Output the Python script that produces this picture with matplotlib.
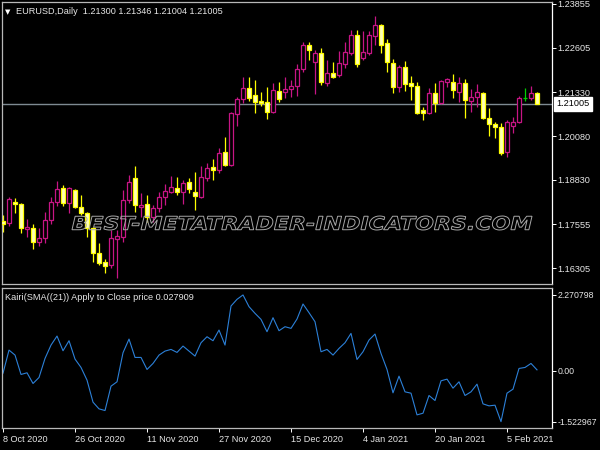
import numpy as np
import matplotlib
matplotlib.use("Agg")
import matplotlib.pyplot as plt
from matplotlib.textpath import TextPath
from matplotlib.patches import PathPatch
from matplotlib.font_manager import FontProperties
from matplotlib.transforms import Affine2D, blended_transform_factory

plt.rcParams['font.family'] = ['Liberation Sans', 'DejaVu Sans']

# ---------------- data ----------------
date_ticks = ['8 Oct 2020', '26 Oct 2020', '11 Nov 2020', '27 Nov 2020',
              '15 Dec 2020', '4 Jan 2021', '20 Jan 2021', '5 Feb 2021']
date_tick_bars = [0, 12, 24, 36, 48, 60, 72, 84]

opens = [1.17655, 1.17598, 1.18198, 1.18141, 1.17427, 1.17455, 1.17055, 1.17170, 1.17684, 1.18198,
         1.18598, 1.18170, 1.18541, 1.18055, 1.17884, 1.17455, 1.16741, 1.16483, 1.16398, 1.17141,
         1.17198, 1.18255, 1.18884, 1.18055, 1.18141, 1.17769, 1.18027, 1.18341, 1.18484, 1.18598,
         1.18484, 1.18769, 1.18484, 1.18341, 1.18884, 1.19198, 1.19113, 1.19625, 1.19255, 1.20712,
         1.21141, 1.21455, 1.21255, 1.21084, 1.21055, 1.20770, 1.21370, 1.21341, 1.21427, 1.21512,
         1.21998, 1.22683, 1.22198, 1.22455, 1.21598, 1.21883, 1.21826, 1.22141, 1.22455, 1.22969,
         1.22312, 1.22455, 1.22940, 1.23255, 1.22740, 1.22169, 1.21484, 1.22055, 1.21598, 1.21512,
         1.20827, 1.20741, 1.21312, 1.21027, 1.21626, 1.21626, 1.21341, 1.21598, 1.21084, 1.21198,
         1.21312, 1.20598, 1.20427, 1.20341, 1.19625, 1.20370, 1.20484, 1.21170, 1.21170, 1.21300]
highs = [1.17827, 1.18341, 1.18312, 1.18170, 1.17712, 1.17570, 1.17455, 1.17912, 1.18341, 1.18798,
         1.18684, 1.18627, 1.18569, 1.18398, 1.17912, 1.17484, 1.17027, 1.16570, 1.17398, 1.17398,
         1.18541, 1.18969, 1.19227, 1.18455, 1.18398, 1.18112, 1.18484, 1.18712, 1.18941, 1.18912,
         1.18827, 1.18884, 1.19055, 1.19227, 1.19313, 1.19427, 1.19741, 1.20055, 1.20770, 1.21198,
         1.21769, 1.21769, 1.21683, 1.21341, 1.21484, 1.21598, 1.21626, 1.21769, 1.21683, 1.22141,
         1.22769, 1.22769, 1.22541, 1.22598, 1.22255, 1.22198, 1.22512, 1.22769, 1.23112, 1.23112,
         1.23083, 1.23083, 1.23512, 1.23283, 1.22855, 1.22283, 1.22112, 1.22226, 1.21798, 1.21626,
         1.20912, 1.21455, 1.21598, 1.21683, 1.21741, 1.21855, 1.21769, 1.21712, 1.21427, 1.21569,
         1.21341, 1.20884, 1.20484, 1.20455, 1.20541, 1.20627, 1.21227, 1.21455, 1.21512, 1.21346]
lows = [1.17341, 1.17512, 1.17884, 1.17313, 1.17198, 1.16855, 1.16941, 1.17027, 1.17570, 1.18084,
        1.18084, 1.17884, 1.18027, 1.17827, 1.17198, 1.16483, 1.16398, 1.16170, 1.16313, 1.16027,
        1.17055, 1.18170, 1.17912, 1.17769, 1.17627, 1.17627, 1.17912, 1.18112, 1.18455, 1.18398,
        1.18141, 1.18455, 1.17969, 1.18312, 1.18798, 1.18827, 1.19027, 1.19227, 1.19227, 1.20370,
        1.21027, 1.21084, 1.20741, 1.20941, 1.20569, 1.20741, 1.21055, 1.21170, 1.21198, 1.21227,
        1.21912, 1.22255, 1.21284, 1.21541, 1.21512, 1.21741, 1.21769, 1.22026, 1.22398, 1.22055,
        1.22255, 1.22398, 1.22683, 1.22455, 1.21912, 1.21312, 1.21341, 1.21370, 1.21112, 1.20712,
        1.20541, 1.20712, 1.20770, 1.20998, 1.21484, 1.21170, 1.21055, 1.20598, 1.20770, 1.20912,
        1.20569, 1.20084, 1.20027, 1.19541, 1.19484, 1.20171, 1.20455, 1.21084, 1.21112, 1.21004]
closes = [1.17570, 1.18284, 1.18141, 1.17455, 1.17484, 1.17055, 1.17170, 1.17684, 1.18198, 1.18569,
          1.18170, 1.18598, 1.18055, 1.17884, 1.17455, 1.16741, 1.16455, 1.16370, 1.17170, 1.17227,
          1.18255, 1.18769, 1.18112, 1.18112, 1.17769, 1.18027, 1.18341, 1.18512, 1.18627, 1.18484,
          1.18741, 1.18569, 1.18369, 1.18912, 1.19170, 1.19113, 1.19597, 1.19255, 1.20741, 1.21141,
          1.21455, 1.21170, 1.21055, 1.21027, 1.20770, 1.21398, 1.21141, 1.21427, 1.21512, 1.21998,
          1.22683, 1.22541, 1.22455, 1.21626, 1.21883, 1.21769, 1.22169, 1.22483, 1.22969, 1.22141,
          1.22483, 1.22969, 1.23255, 1.22683, 1.22198, 1.21484, 1.22055, 1.21569, 1.21512, 1.20741,
          1.20741, 1.21312, 1.21027, 1.21655, 1.21712, 1.21398, 1.21598, 1.21112, 1.21198, 1.21341,
          1.20598, 1.20427, 1.20341, 1.19597, 1.20484, 1.20484, 1.21170, 1.21170, 1.21300, 1.21005]

kairi = [-0.07, 0.62, 0.47, -0.11, -0.06, -0.38, -0.20, 0.37, 0.77, 1.04,
         0.60, 0.90, 0.35, 0.10, -0.28, -0.94, -1.14, -1.19, -0.46, -0.33,
         0.54, 0.95, 0.40, 0.40, 0.04, 0.22, 0.47, 0.59, 0.64, 0.55,
         0.74, 0.59, 0.44, 0.84, 1.02, 0.90, 1.22, 0.77, 1.94, 2.14,
         2.270798, 1.92, 1.72, 1.54, 1.17, 1.59, 1.20, 1.32, 1.27, 1.55,
         2.00, 1.74, 1.47, 0.57, 0.64, 0.47, 0.67, 0.84, 1.12, 0.34,
         0.57, 0.92, 1.10, 0.52, 0.04, -0.66, -0.16, -0.63, -0.67, -1.32,
         -1.27, -0.74, -0.89, -0.30, -0.25, -0.52, -0.33, -0.74, -0.63, -0.40,
         -0.99, -1.05, -1.03, -1.522967, -0.67, -0.55, 0.07, 0.10, 0.22, 0.027909]

price_ticks = [1.23855, 1.22605, 1.21330, 1.20080, 1.18830, 1.17555, 1.16305]
kairi_ticks = [2.270798, 0.0, -1.522967]
kairi_tick_labels = ['2.270798', '0.00', '-1.522967']
last_price = 1.21005
title_text = 'EURUSD,Daily  1.21300 1.21346 1.21004 1.21005'
ind_title = 'Kairi(SMA((21)) Apply to Close price 0.027909'
watermark = 'BEST-METATRADER-INDICATORS.COM'

# ---------------- style ----------------
BULL = '#c71585'
BEAR = '#ffff00'
BEAR_FILL = '#ffffb8'
DOJI = '#00d000'
LINE = '#2c80d8'
TXT = '#e6e6e6'
FRAME = '#b8b8b8'
FS = 6.6

W, H = 600, 450
fig = plt.figure(figsize=(W / 100, H / 100), dpi=100, facecolor='black')
ax1 = fig.add_axes([2 / W, (H - 284) / H, 550 / W, 282 / H])
ax2 = fig.add_axes([2 / W, 22 / H, 550 / W, 140 / H])

o = np.array(opens); h = np.array(highs); l = np.array(lows); c = np.array(closes)
x = np.arange(len(c))

for ax in (ax1, ax2):
    ax.set_facecolor('black')
    ax.set_xlim(-0.17, 91.5)
    for s in ('left', 'top', 'bottom'):
        ax.spines[s].set_color(FRAME)
        ax.spines[s].set_linewidth(0.9)
    ax.spines['right'].set_color('white')
    ax.spines['right'].set_linewidth(0.9)
    ax.yaxis.tick_right()
    ax.tick_params(axis='y', colors='white', labelcolor=TXT, length=3, width=0.7,
                   pad=1.2, labelsize=FS)

# candles
up = c > o
dn = c < o
dj = c == o
wick_col = np.where(up, BULL, np.where(dn, BEAR, DOJI))
face_col = np.where(up, 'black', np.where(dn, BEAR_FILL, DOJI))
edge_col = np.where(up, BULL, np.where(dn, BEAR, DOJI))
ax1.vlines(x, l, h, colors=list(wick_col), linewidth=0.9, zorder=2)
ax1.bar(x[~dj], np.abs(c - o)[~dj], bottom=np.minimum(o, c)[~dj], width=0.6,
        color=list(face_col[~dj]), edgecolor=list(edge_col[~dj]), linewidth=0.9, zorder=3)
ax1.hlines(c[dj], x[dj] - 0.35, x[dj] + 0.35, colors=DOJI, linewidth=0.9, zorder=3)

ax1.set_ylim(1.15855, 1.23912)
ax1.set_yticks(price_ticks)
ax1.set_yticklabels(['%.5f' % p for p in price_ticks])
ax1.set_xticks([])
ax1.axhline(last_price, color='#7e8a92', linewidth=1.0, zorder=1)
bt = blended_transform_factory(ax1.transAxes, ax1.transData)
ax1.text(1.0075, last_price, '%.5f' % last_price, transform=bt, ha='left', va='center',
         color='black', fontsize=FS,
         bbox=dict(boxstyle='square,pad=0.25', fc='white', ec='white'))

# Kairi pane
ax2.plot(x, kairi, color=LINE, linewidth=0.8)
ax2.set_ylim(-1.713, 2.479)
ax2.set_yticks(kairi_ticks)
ax2.set_yticklabels(kairi_tick_labels)
ax2.tick_params(axis='y', labelsize=6.3, pad=1)
ax2.set_xticks(date_tick_bars)
ax2.set_xticklabels(date_ticks, ha='left')
ax2.tick_params(axis='x', colors='white', labelcolor=TXT, length=3, width=0.7,
                pad=2, labelsize=FS)

# titles
fig.text(8 / W, 1 - 12 / H, '\u25bc', color='white', fontsize=5, ha='center', va='center',
         family='DejaVu Sans')
fig.text(16 / W, 1 - 12 / H, title_text, color=TXT, fontsize=FS, ha='left', va='center')
fig.text(5 / W, 1 - 297 / H, ind_title, color=TXT, fontsize=FS, ha='left', va='center')

# watermark (outlined italic text)
tp = TextPath((0, 0), watermark, size=20,
              prop=FontProperties(family='DejaVu Sans', weight='bold', style='oblique'))
ext = tp.get_extents()
sx = (460 / W) / ext.width
sy = (14 / H) / ext.height
tr = (Affine2D().translate(-ext.x0, -ext.y0).scale(sx, sy)
      .translate(72 / W, (H - 230) / H) + fig.transFigure)
fig.add_artist(PathPatch(tp, transform=tr, facecolor='none', edgecolor='#a8a8a8',
                         linewidth=0.7, zorder=5))

fig.savefig('out.png', dpi=100, facecolor='black')
